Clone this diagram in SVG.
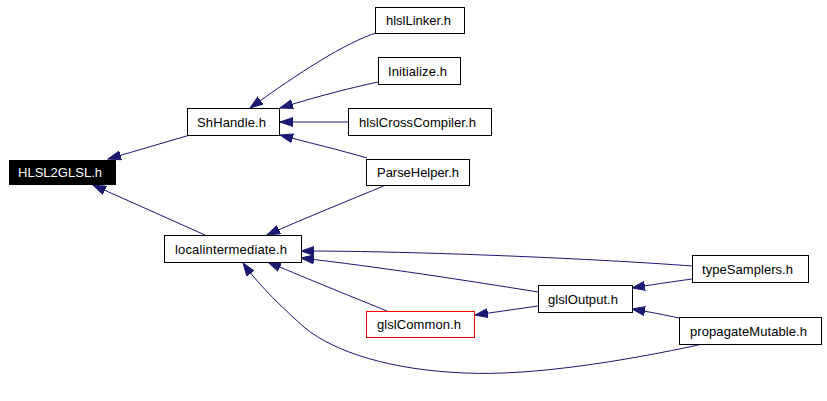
<svg xmlns="http://www.w3.org/2000/svg" width="827" height="401" viewBox="0 0 827 401">
<style>
.n rect{fill:#fff;stroke:#000;stroke-width:1}
.n text{font-family:"Liberation Sans",Arial,sans-serif;font-size:13px;fill:#000;text-anchor:start}
.e path{fill:none;stroke:#191970;stroke-width:1;marker-end:url(#a)}
</style>
<defs>
<marker id="a" markerWidth="14" markerHeight="10" refX="13" refY="5" orient="auto" markerUnits="userSpaceOnUse">
<path d="M0,0.5 L13,5 L0,9.5 z" fill="#191970" stroke="#191970" stroke-width="1"/>
</marker>
</defs>
<rect width="827" height="401" fill="#fff"/>
<g id="edges" class="e">
<path d="M190,135 L108,159"/>
<path d="M205,235 L93,185"/>
<path d="M376,33 C345,43 300,72 250,108"/>
<path d="M378,82 C350,88 315,97 280,108"/>
<path d="M348,122 L280,122"/>
<path d="M367,158 C340,150 310,143 280,135"/>
<path d="M386,185 C350,200 305,218 267,235"/>
<path d="M692,266 C600,259 420,251 301,251"/>
<path d="M538,292 C470,281 380,267 301,258"/>
<path d="M387,311 C360,300 310,280 268,262"/>
<path d="M703,344 C620,362 530,376 465,373 C390,370 335,352 305,328 C285,310 260,287 243,263"/>
<path d="M538,306 L475,315"/>
<path d="M692,279 C670,282 650,285 632,288"/>
<path d="M679,318 C665,315 650,312 632,309"/>
</g>
<g id="HLSL2GLSL" class="n"><rect x="9.5" y="160.5" width="106" height="24" style="fill:#000;stroke:#000"/><text x="18" y="177" textLength="84" style="fill:#fff">HLSL2GLSL.h</text></g>
<g id="ShHandle" class="n"><rect x="187.5" y="108.5" width="92" height="27"/><text x="197" y="126.5" textLength="69">ShHandle.h</text></g>
<g id="hlslLinker" class="n"><rect x="375.5" y="7.5" width="89" height="26"/><text x="386" y="25" textLength="65">hlslLinker.h</text></g>
<g id="Initialize" class="n"><rect x="378.5" y="57.5" width="82" height="27"/><text x="388" y="75.5" textLength="59">Initialize.h</text></g>
<g id="hlslCrossCompiler" class="n"><rect x="348.5" y="108.5" width="143" height="27"/><text x="359" y="126.5" textLength="117">hlslCrossCompiler.h</text></g>
<g id="ParseHelper" class="n"><rect x="366.5" y="159.5" width="103" height="26"/><text x="377" y="177" textLength="82">ParseHelper.h</text></g>
<g id="localintermediate" class="n"><rect x="164.5" y="235.5" width="137" height="27"/><text x="175" y="253.5" textLength="112">localintermediate.h</text></g>
<g id="glslCommon" class="n"><rect x="366.5" y="311.5" width="108" height="26" style="stroke:#f00"/><text x="377" y="329" textLength="84">glslCommon.h</text></g>
<g id="typeSamplers" class="n"><rect x="692.5" y="255.5" width="116" height="27"/><text x="702" y="273.5" textLength="91">typeSamplers.h</text></g>
<g id="glslOutput" class="n"><rect x="538.5" y="285.5" width="94" height="27"/><text x="548" y="303.5" textLength="70">glslOutput.h</text></g>
<g id="propagateMutable" class="n"><rect x="679.5" y="317.5" width="142" height="27"/><text x="690" y="335.5" textLength="117">propagateMutable.h</text></g>
</svg>
